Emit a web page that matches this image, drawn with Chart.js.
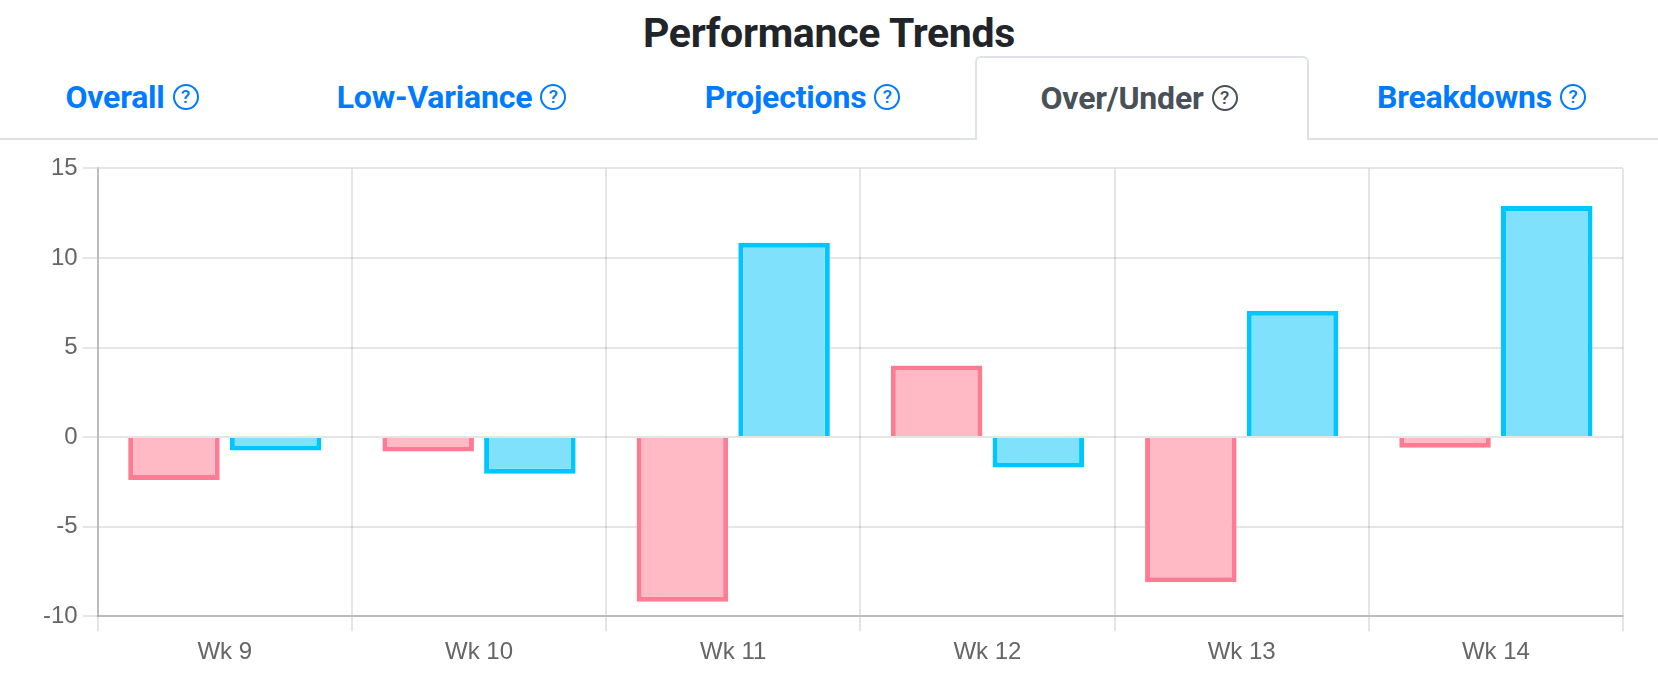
<!DOCTYPE html>
<html>
<head>
<meta charset="utf-8">
<title>Performance Trends</title>
<script src="https://cdn.jsdelivr.net/npm/chart.js@4.4.1/dist/chart.umd.min.js"></script>
<style>
  html, body {
    margin: 0;
    padding: 0;
    background: #ffffff;
    width: 1658px;
    height: 689px;
    overflow: hidden;
    font-family: Roboto, "Noto Sans", Arial, sans-serif;
  }
  h1 {
    position: absolute;
    top: 0;
    left: 0;
    width: 1658px;
    margin: 0;
    text-align: center;
    font-size: 41px;
    font-weight: 700;
    color: #212529;
    line-height: 66px;
    letter-spacing: -0.3px;
  }
  .tabs {
    position: absolute;
    top: 56px;
    left: 0;
    width: 1658px;
    height: 82px;
    display: flex;
    border-bottom: 2px solid #dee2e6;
  }
  .tab {
    box-sizing: border-box;
    height: 84px;
    padding-bottom: 3px;
    display: flex;
    align-items: center;
    justify-content: center;
    font-size: 32px;
    font-weight: 700;
    color: #007bff;
    letter-spacing: -0.2px;
  }
  .tab.active {
    color: #495057;
    background: #ffffff;
    border: 2px solid #dee2e6;
    border-bottom: none;
    border-radius: 6px 6px 0 0;
  }
  .help {
    display: inline-block;
    box-sizing: border-box;
    width: 26px;
    height: 26px;
    margin-left: 8px;
    border: 2.5px solid currentColor;
    border-radius: 50%;
    font-size: 19px;
    font-weight: 500;
    line-height: 21px;
    text-align: center;
    letter-spacing: 0;
  }
  #chartBox {
    position: absolute;
    top: 149px;
    left: 0;
    width: 1658px;
    height: 530px;
  }
</style>
</head>
<body>
<h1>Performance Trends</h1>
<div class="tabs">
  <div class="tab" style="width:273px; padding-right:9px">Overall<span class="help">?</span></div>
  <div class="tab" style="width:357px">Low-Variance<span class="help">?</span></div>
  <div class="tab" style="width:345px">Projections<span class="help">?</span></div>
  <div class="tab active" style="width:334px; padding-right:6px">Over/Under<span class="help">?</span></div>
  <div class="tab" style="width:349px; padding-right:4px">Breakdowns<span class="help">?</span></div>
</div>
<div id="chartBox"><canvas id="overUnderChart"></canvas></div>

<script>
const weeks = ["Wk 9", "Wk 10", "Wk 11", "Wk 12", "Wk 13", "Wk 14"];
const redSeries = [-2.4, -0.8, -9.2, 4.0, -8.1, -0.6];
const blueSeries = [-0.75, -2.05, 10.85, -1.7, 7.05, 12.9];
const yTicks = [-10, -5, 0, 5, 10, 15];

const gridColor = "rgba(0, 0, 0, 0.1)";
const tickFont = { family: "\"Liberation Sans\", Arial, sans-serif", size: 24 };

new Chart(document.getElementById("overUnderChart"), {
  type: "bar",
  data: {
    labels: weeks,
    datasets: [
      {
        label: "Red",
        data: redSeries,
        backgroundColor: "#ffbac6",
        borderColor: "#ff7b91",
        borderWidth: 5
      },
      {
        label: "Blue",
        data: blueSeries,
        backgroundColor: "#80e1fd",
        borderColor: "#00c6ff",
        borderWidth: 5
      }
    ]
  },
  options: {
    responsive: true,
    maintainAspectRatio: false,
    animation: false,
    layout: {
      padding: { left: 38, right: 35, top: 16, bottom: 5 }
    },
    plugins: {
      legend: { display: false },
      tooltip: { enabled: false }
    },
    scales: {
      x: {
        grid: {
          offset: true,
          color: gridColor,
          lineWidth: 2,
          tickLength: 15
        },
        border: { color: "rgba(0, 0, 0, 0.18)", width: 2 },
        ticks: { color: "#666666", font: tickFont, padding: 7, maxRotation: 0 }
      },
      y: {
        min: yTicks[0],
        max: yTicks[yTicks.length - 1],
        afterBuildTicks(scale) {
          scale.ticks = yTicks.map((value) => ({ value }));
        },
        grid: {
          color: gridColor,
          lineWidth: 2,
          tickLength: 15
        },
        border: { color: "rgba(0, 0, 0, 0.18)", width: 2 },
        ticks: { color: "#666666", font: tickFont, padding: 5 }
      }
    }
  }
});
</script>
</body>
</html>
